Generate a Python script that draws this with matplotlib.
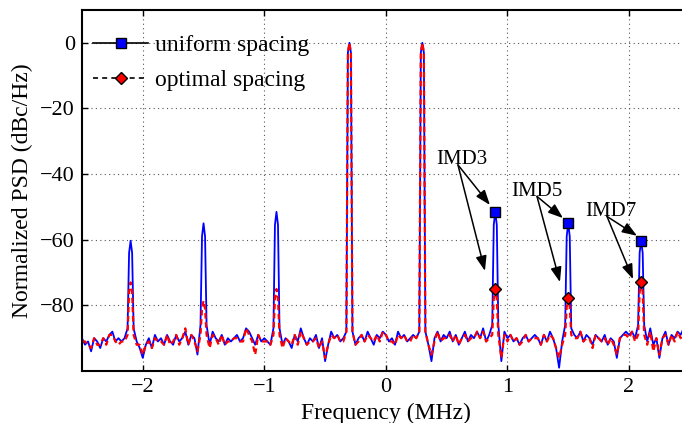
import numpy as np
import matplotlib
matplotlib.use('Agg')
import matplotlib.pyplot as plt
from matplotlib.lines import Line2D

plt.rcParams['font.family'] = ['Liberation Serif', 'DejaVu Serif']
plt.rcParams['font.size'] = 17

# frequency axis (MHz), 0.025 MHz bins
freq = np.round(np.arange(-2.5, 2.5001, 0.025), 4)

uniform_psd = [
    -90, -92, -91, -94, -90, -91, -93, -90, -91, -89,
    -88, -91, -90, -91, -90, -87, -60.3, -87, -91, -93,
    -96, -92, -90, -93, -89, -91, -90, -92, -89, -91,
    -92, -89, -91, -90, -88, -92, -89, -90, -95, -86,
    -55, -86, -92, -88, -90, -91, -89, -92, -90, -91,
    -90, -89, -91, -90, -87, -88, -90, -92, -89, -91,
    -90, -91, -92, -87, -51.5, -87, -92, -90, -91, -93,
    -89, -91, -87, -90, -92, -90, -91, -89, -93, -90,
    -97, -92, -88, -90, -89, -91, -90, -88, 0, -88,
    -92, -90, -89, -91, -88, -90, -92, -89, -90, -88,
    -89, -91, -90, -92, -88, -90, -89, -91, -90, -89,
    -90, -88, 0, -88, -92, -97, -90, -88, -91, -89,
    -90, -88, -91, -89, -92, -90, -88, -91, -89, -90,
    -88, -90, -87, -91, -89, -86, -51.5, -86, -97, -88,
    -90, -89, -91, -90, -92, -90, -89, -91, -90, -89,
    -90, -92, -89, -91, -88, -90, -93, -99, -91, -86,
    -55, -87, -89, -90, -88, -91, -89, -90, -92, -89,
    -90, -91, -89, -92, -90, -91, -96, -90, -89, -88,
    -89, -88, -90, -86, -60.3, -86, -91, -87, -92, -90,
    -96, -90, -88, -92, -89, -90, -88, -89, -87, -88,
    -89,
]

optimal_psd = [
    -91, -91, -92, -93, -90, -92, -92, -90, -92, -89,
    -89, -91, -92, -91, -91, -89, -73, -89, -92, -92,
    -95, -92, -91, -93, -90, -91, -91, -92, -89, -92,
    -91, -89, -92, -90, -87, -92, -89, -91, -94, -89,
    -78.6, -89, -93, -89, -90, -92, -89, -92, -91, -91,
    -90, -90, -91, -91, -87, -89, -91, -95, -89, -91,
    -91, -91, -92, -89, -75, -89, -93, -90, -91, -92,
    -89, -92, -88, -90, -92, -91, -91, -90, -93, -91,
    -96, -92, -89, -90, -89, -91, -91, -88, 0, -88,
    -92, -91, -89, -91, -89, -90, -91, -89, -91, -88,
    -89, -91, -91, -92, -89, -90, -89, -91, -91, -89,
    -90, -88, 0, -88, -92, -95, -91, -88, -91, -90,
    -90, -89, -91, -89, -92, -90, -89, -91, -90, -90,
    -88, -90, -88, -91, -90, -89, -75, -89, -96, -89,
    -91, -89, -91, -90, -92, -91, -89, -91, -90, -90,
    -90, -92, -89, -91, -89, -90, -93, -96, -92, -89,
    -77.7, -89, -90, -90, -88, -91, -90, -90, -93, -89,
    -90, -91, -90, -92, -90, -92, -95, -90, -89, -89,
    -90, -88, -91, -89, -73, -89, -92, -88, -94, -90,
    -95, -90, -89, -92, -89, -91, -88, -90, -88, -89,
    -89,
]

# tone / IMD peak centres and the PSD just beside each centre (+-0.0125 MHz)
peak_freqs = [-2.1, -1.5, -0.9, -0.3, 0.3, 0.9, 1.5, 2.1]
uniform_side = [-64, -59, -55.5, -3, -3, -55.5, -59, -64]
optimal_side = [-76, -81, -78, -3, -3, -78, -80.5, -76]
side_dx = 0.0125

imd_freqs = [0.9, 1.5, 2.1]
imd_labels = ['IMD3', 'IMD5', 'IMD7']
imd_text = [(0.625, -36.9), (1.243, -46.6), (1.852, -52.7)]
imd_tail = [(0.593, -37.2), (1.243, -46.8), (1.819, -52.9)]
imd_head_u = [(0.856, -49.4), (1.457, -53.4), (2.066, -58.8)]
imd_head_o = [(0.815, -69.5), (1.432, -72.9), (2.033, -72.0)]


def with_sides(vals, sides):
    xs = list(freq)
    ys = list(vals)
    for f, s in zip(peak_freqs, sides):
        xs += [f - side_dx, f + side_dx]
        ys += [s, s]
    order = np.argsort(xs, kind='stable')
    return np.array(xs)[order], np.array(ys)[order]


fu, yu = with_sides(uniform_psd, uniform_side)
fo, yo = with_sides(optimal_psd, optimal_side)
mark_u = [int(np.argmin(np.abs(fu - f))) for f in imd_freqs]
mark_o = [int(np.argmin(np.abs(fo - f))) for f in imd_freqs]

fig = plt.figure(figsize=(6.82, 4.23), dpi=100)
ax = fig.add_axes([0.1202, 0.1229, 0.8912, 0.8535])

ax.plot(fu, yu, color='b', lw=1.3, marker='s', markevery=mark_u,
        ms=7.3, mfc='b', mec='k', mew=1)
ax.plot(fo, yo, color='r', lw=1.6, ls=(0, (2.5, 1.6)), marker='D',
        markevery=mark_o, ms=6.6, mfc='r', mec='k', mew=1)

akw = dict(arrowstyle='-|>,head_length=0.6,head_width=0.22', color='k', lw=1.1,
           shrinkA=0, shrinkB=0, mutation_scale=15)
for lab, t, tl, hu, ho in zip(imd_labels, imd_text, imd_tail, imd_head_u, imd_head_o):
    ax.text(t[0], t[1], lab, ha='center', va='baseline', fontsize=15)
    ax.annotate('', xy=hu, xytext=tl, arrowprops=akw)
    ax.annotate('', xy=ho, xytext=tl, arrowprops=akw)

ax.set_xlim(-2.5, 2.5)
ax.set_ylim(-100, 10)
ax.set_xticks([-2, -1, 0, 1, 2])
ax.set_yticks([-80, -60, -40, -20, 0])
ax.grid(True, ls=(0, (1, 3)), color='#555555', lw=0.8)
ax.tick_params(direction='in', top=True, right=True, length=4, width=1,
               labelsize=16, pad=5)
for s in ax.spines.values():
    s.set_linewidth(1.5)
ax.spines['right'].set_visible(False)

ax.set_xlabel('Frequency (MHz)', va='top')
ax.xaxis.set_label_coords(0.5, -0.088)
ax.set_ylabel('Normalized PSD (dBc/Hz)')
ax.yaxis.set_label_coords(-0.081, 0.5)

handles = [
    Line2D([], [], color='k', lw=1.2, marker='s', ms=7.3, mfc='b', mec='k'),
    Line2D([], [], color='k', lw=1.2, ls=(0, (3, 2.5)), marker='D', ms=6.6,
           mfc='r', mec='k'),
]
ax.legend(handles, ['uniform spacing', 'optimal spacing'], loc='upper left',
          bbox_to_anchor=(-0.0168, 0.991), frameon=False, handlelength=2.33,
          labelspacing=0.58, handletextpad=0.3)

fig.savefig('out.png', dpi=100)
